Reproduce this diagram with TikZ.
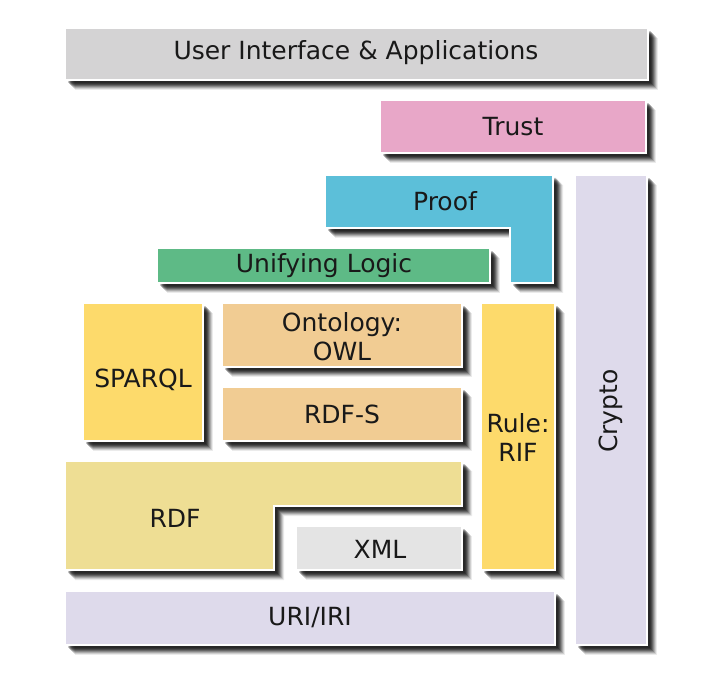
\documentclass[tikz,border=0pt]{standalone}
\usepackage{fontspec}
\setmainfont{DejaVu Sans}
\definecolor{cUI}{HTML}{D4D3D4}
\definecolor{cTrust}{HTML}{E8A7C8}
\definecolor{cProof}{HTML}{5CBFD9}
\definecolor{cLav}{HTML}{DEDAEB}
\definecolor{cUnify}{HTML}{5EBA86}
\definecolor{cYellow}{HTML}{FDDA6B}
\definecolor{cTan}{HTML}{F1CC93}
\definecolor{cRDF}{HTML}{EEDE94}
\definecolor{cXML}{HTML}{E4E4E4}
\newcommand\blkshadow[1]{%
  \foreach \d/\op in {10/0.08,9/0.12,8/0.16,7/0.20,6/0.25,5/0.28,4/0.28,3/0.22}{%
    \fill[black,opacity=\op,shift={(\d,\d)}] #1;}}
\newcommand\blkface[2]{%
  \fill[#1] #2; \draw[white,line width=1.3pt,line join=miter] #2;}
\tikzset{lbl/.style={font=\fontsize{25}{29}\selectfont,text=black!90,align=center,inner sep=0pt}}
\begin{document}
\begin{tikzpicture}[x=1pt,y=-1pt]
\fill[white] (0,0) rectangle (702,679);
\useasboundingbox (0,0) rectangle (702,679);
% shadows
\blkshadow{(65,28) rectangle (648,80)}
\blkshadow{(380,100) rectangle (646,153)}
\blkshadow{(325,175) -- (553,175) -- (553,283) -- (510,283) -- (510,228) -- (325,228) -- cycle}
\blkshadow{(575,175) rectangle (647,645)}
\blkshadow{(157,248) rectangle (490,283)}
\blkshadow{(83,303) rectangle (203,441)}
\blkshadow{(222,303) rectangle (462,367)}
\blkshadow{(222,387) rectangle (462,441)}
\blkshadow{(481,303) rectangle (555,570)}
\blkshadow{(65,461) -- (462,461) -- (462,506) -- (274,506) -- (274,570) -- (65,570) -- cycle}
\blkshadow{(296,526) rectangle (462,570)}
\blkshadow{(65,591) rectangle (555,645)}
% faces
\blkface{cUI}{(65,28) rectangle (648,80)}
\blkface{cTrust}{(380,100) rectangle (646,153)}
\blkface{cProof}{(325,175) -- (553,175) -- (553,283) -- (510,283) -- (510,228) -- (325,228) -- cycle}
\blkface{cLav}{(575,175) rectangle (647,645)}
\blkface{cUnify}{(157,248) rectangle (490,283)}
\blkface{cYellow}{(83,303) rectangle (203,441)}
\blkface{cTan}{(222,303) rectangle (462,367)}
\blkface{cTan}{(222,387) rectangle (462,441)}
\blkface{cYellow}{(481,303) rectangle (555,570)}
\blkface{cRDF}{(65,461) -- (462,461) -- (462,506) -- (274,506) -- (274,570) -- (65,570) -- cycle}
\blkface{cXML}{(296,526) rectangle (462,570)}
\blkface{cLav}{(65,591) rectangle (555,645)}
% labels
\node[lbl] (ui) at (356,53) {User Interface \& Applications};
\node[lbl] (trust) at (513,127) {Trust};
\node[lbl] (proof) at (445,201) {Proof};
\node[lbl] (crypto) at (611,411) [rotate=90] {Crypto};
\node[lbl] (unify) at (324,266) {Unifying Logic};
\node[lbl] (sparql) at (143,380) {SPARQL};
\node[lbl] (owl) at (342,337) {Ontology:\\OWL};
\node[lbl] (rdfs) at (342,414) {RDF-S};
\node[lbl] (rif) at (518,438) {Rule:\\RIF};
\node[lbl] (rdf) at (175,518) {RDF};
\node[lbl] (xml) at (380,549) {XML};
\node[lbl] (uri) at (310,618) {URI/IRI};
\end{tikzpicture}
\end{document}
